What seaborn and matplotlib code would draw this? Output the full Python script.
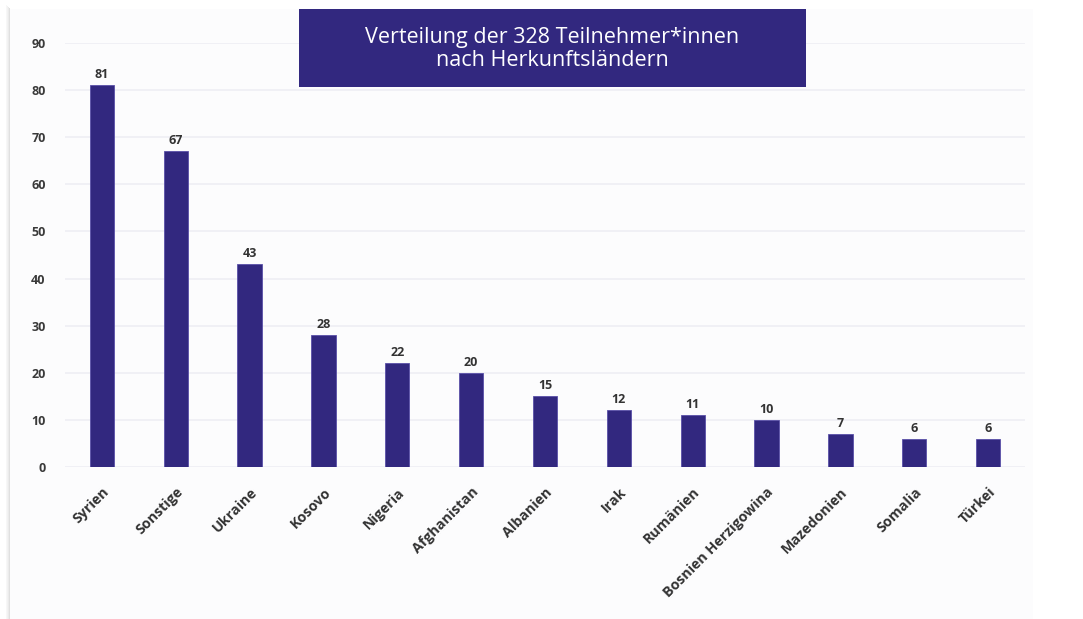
import matplotlib
matplotlib.use("Agg")
import matplotlib.pyplot as plt
import seaborn as sns
import pandas as pd
from matplotlib.patches import Rectangle

countries = ["Syrien", "Sonstige", "Ukraine", "Kosovo", "Nigeria", "Afghanistan",
             "Albanien", "Irak", "Rumänien", "Bosnien Herzigowina", "Mazedonien",
             "Somalia", "Türkei"]
counts = [81, 67, 43, 28, 22, 20, 15, 12, 11, 10, 7, 6, 6]
yticks = [0, 10, 20, 30, 40, 50, 60, 70, 80, 90]
title = "Verteilung der 328 Teilnehmer*innen\nnach Herkunftsländern"

bar_color = "#32287F"

sns.set_theme(style="white")
plt.rcParams["font.family"] = ["Open Sans", "DejaVu Sans"]

fig = plt.figure(figsize=(10.83, 6.19), dpi=100)
fig.patch.set_facecolor("white")

W, H = 1083, 619
# panel with soft left shadow
for i, a in enumerate([0.03, 0.05, 0.08, 0.12]):
    fig.patches.append(Rectangle(((10 - 4 + i) / W, 0), 1 / W, (H - 9 + 4 - i) / H,
                                 transform=fig.transFigure, facecolor="black",
                                 alpha=a, edgecolor="none", zorder=0))
fig.patches.append(Rectangle((10 / W, 0), (1033 - 10) / W, (H - 9) / H,
                             transform=fig.transFigure, facecolor="#FCFCFD",
                             edgecolor="none", zorder=0.5))

ax = fig.add_axes([65 / W, 1 - 467 / H, (1025 - 65) / W, (467 - 43) / H])
ax.set_facecolor("none")
ax.set_zorder(2)

df = pd.DataFrame({"Land": countries, "Anzahl": counts})
sns.barplot(data=df, x="Land", y="Anzahl", color=bar_color, width=0.33,
            saturation=1, ax=ax, zorder=3, edgecolor="#5a50a8", linewidth=0.6)

ax.set_ylim(0, 90)
ax.set_xlim(-0.5, len(countries) - 0.5)
ax.set_yticks(yticks)
ax.yaxis.grid(True, color="#F0F0F5", linewidth=1.4, zorder=0)
ax.set_axisbelow(True)
for s in ax.spines.values():
    s.set_visible(False)
ax.set_xlabel("")
ax.set_ylabel("")
ax.tick_params(axis="y", length=0, pad=14, labelsize=9, labelcolor="#3a3a3a")
ax.tick_params(axis="x", length=0, pad=13, labelsize=10.3, labelcolor="#333333")
for lab in ax.get_yticklabels():
    lab.set_fontweight("bold")
ax.set_xticks(range(len(countries)))
ax.set_xticklabels(countries, rotation=45, ha="right", rotation_mode="anchor",
                   fontweight="bold")

for cont in ax.containers:
    ax.bar_label(cont, labels=[str(v) for v in counts], padding=3, fontsize=9,
                 color="#333333", fontweight="bold")

# title box
fig.patches.append(Rectangle((299 / W, 1 - 87 / H), (806 - 299) / W, (87 - 9) / H,
                             transform=fig.transFigure, facecolor=bar_color,
                             edgecolor="none", zorder=5))
fig.text((299 + 806) / 2 / W, 1 - 49 / H, title, ha="center", va="center",
         color="white", fontsize=15.5, linespacing=1.15, zorder=6)

fig.savefig("out.png", dpi=100)
